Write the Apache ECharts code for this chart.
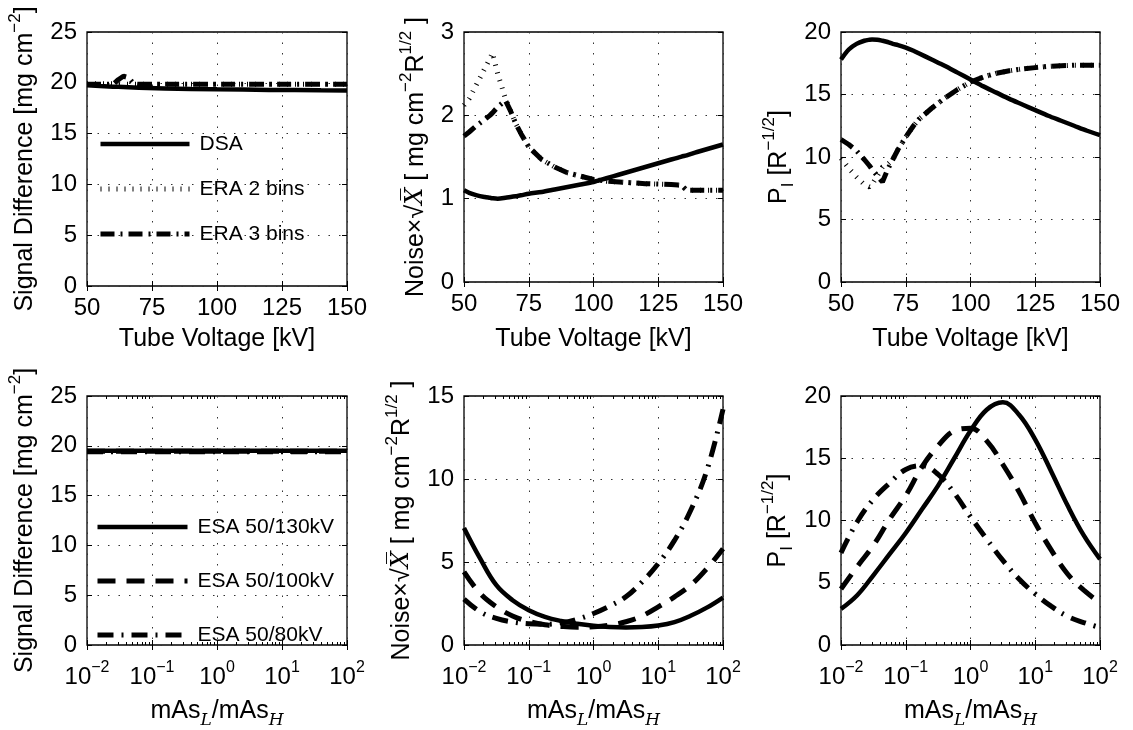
<!DOCTYPE html>
<html>
<head>
<meta charset="utf-8">
<script src="https://cdn.jsdelivr.net/npm/echarts@6/dist/echarts.min.js"></script>
<style>
html,body{margin:0;padding:0;background:#fff;}
#chart{width:1133px;height:730px;}
</style>
</head>
<body>
<div id="chart"></div>
<script>
// ---------------- DATA ----------------
// Top row: x = tube voltage [kV]
const p1X   = [50,55,60,62,64,66,68,70,80,90,100,110,120,130,140,150];
const p1DSA = [19.75,19.68,19.62,19.6,19.58,19.56,19.54,19.52,19.45,19.4,19.36,19.33,19.3,19.28,19.26,19.25];
const p1ERA2= [19.9,19.9,19.9,19.9,19.85,19.85,19.85,19.85,19.85,19.85,19.85,19.85,19.85,19.85,19.85,19.85];
const p1ERA3= [19.85,19.85,19.85,20.3,20.65,20.5,19.9,19.85,19.85,19.85,19.85,19.85,19.85,19.85,19.85,19.85];

const p2X   = [50,52,55,58,60,61,63,66,68,70,72,75,80,85,90,95,100,105,110,120,130,134,136,140,150];
const p2DSA = [1.10,1.07,1.04,1.02,1.01,1.005,1.0,1.01,1.02,1.03,1.04,1.06,1.08,1.11,1.14,1.17,1.20,1.245,1.29,1.38,1.47,1.505,1.52,1.56,1.65];
const p2ERA2= [2.12,2.2,2.38,2.56,2.68,2.75,2.5,2.2,2.05,1.9,1.78,1.62,1.47,1.38,1.31,1.27,1.23,1.21,1.2,1.18,1.17,1.16,1.1,1.1,1.1];
const p2ERA3= [1.75,1.8,1.88,1.95,2.0,2.03,2.1,2.18,2.05,1.9,1.78,1.62,1.47,1.38,1.31,1.27,1.23,1.21,1.2,1.18,1.17,1.16,1.1,1.1,1.1];

const p3X   = [50,53,56,59,61,62,64,66,68,70,72,75,78,80,85,90,95,100,105,110,115,120,125,130,135,140,145,150];
const p3DSA = [17.8,18.6,19.05,19.3,19.38,19.4,19.38,19.3,19.2,19.05,18.95,18.75,18.5,18.3,17.8,17.3,16.75,16.2,15.65,15.15,14.65,14.2,13.75,13.3,12.9,12.5,12.1,11.75];
const p3ERA2= [9.9,9.1,8.4,7.8,7.6,7.8,8.5,9.2,9.4,9.8,10.6,11.6,12.5,13.0,13.9,14.7,15.4,16.0,16.4,16.7,16.9,17.05,17.15,17.25,17.3,17.35,17.35,17.35];
const p3ERA3= [11.4,11.0,10.5,9.8,9.3,9.0,8.5,8.0,9.0,9.8,10.6,11.6,12.5,13.0,13.9,14.7,15.4,16.0,16.4,16.7,16.9,17.05,17.15,17.25,17.3,17.35,17.35,17.35];

// Bottom row: x = mAs_L / mAs_H (log)
const ratio = [0.01,0.0178,0.0316,0.0562,0.1,0.178,0.316,0.562,1,1.78,3.16,5.62,10,17.8,31.6,56.2,100];
const p4ESA130 = [19.5,19.5,19.5,19.5,19.5,19.5,19.5,19.5,19.5,19.5,19.5,19.5,19.5,19.5,19.5,19.5,19.5];
const p4ESA100 = [19.45,19.45,19.45,19.45,19.45,19.45,19.45,19.45,19.45,19.45,19.45,19.45,19.45,19.45,19.45,19.45,19.45];
const p4ESA80  = [19.4,19.4,19.4,19.4,19.4,19.4,19.4,19.4,19.4,19.4,19.4,19.4,19.4,19.4,19.4,19.4,19.4];

const p5ESA130 = [7.05,5.2,3.6,2.7,2.1,1.7,1.45,1.28,1.16,1.09,1.06,1.08,1.17,1.38,1.76,2.25,2.86];
const p5ESA100 = [4.4,3.1,2.3,1.75,1.42,1.22,1.12,1.07,1.1,1.2,1.4,1.75,2.3,2.9,3.6,4.6,5.8];
const p5ESA80  = [2.76,2.0,1.6,1.38,1.28,1.25,1.33,1.55,1.9,2.35,2.9,3.8,4.9,6.3,8.1,10.5,14.2];

const p6ESA130 = [2.9,4.0,5.6,7.3,9.0,10.9,12.8,15.0,17.2,18.9,19.5,18.5,16.5,13.9,11.2,8.8,6.9];
const p6ESA100 = [4.5,6.3,8.0,10.1,12.0,14.3,16.0,17.2,17.4,16.4,14.5,12.3,9.8,7.6,5.7,4.4,3.4];
const p6ESA80  = [7.4,9.9,11.7,13.0,14.1,14.4,13.7,12.2,10.3,8.5,6.8,5.3,4.1,3.1,2.3,1.8,1.4];

const legendTop = ['DSA','ERA 2 bins','ERA 3 bins'];
const legendBottom = ['ESA 50/130kV','ESA 50/100kV','ESA 50/80kV'];
const logMinorTicks = [0.02,0.03,0.04,0.05,0.06,0.07,0.08,0.09,0.2,0.3,0.4,0.5,0.6,0.7,0.8,0.9,2,3,4,5,6,7,8,9,20,30,40,50,60,70,80,90];

// ---------------- STYLE ----------------
const FF = 'Liberation Sans';
const solid  = {color:'#000', width:4.5, type:'solid'};
const dotted = {color:'#000', width:5, type:[1,7], cap:'butt'};
const dashdot= {color:'#000', width:5, type:[14,6,2,6], cap:'butt'};
const dashed = {color:'#000', width:5, type:[18,11], cap:'butt'};
const dashdot2={color:'#000', width:5, type:[16,8,2,8], cap:'butt'};

const grids = [
  {left:87,  top:32,  width:260, height:254},
  {left:464, top:32,  width:259, height:250},
  {left:841, top:32,  width:259, height:250},
  {left:87,  top:396, width:260, height:250},
  {left:464, top:396, width:259, height:250},
  {left:841, top:396, width:259, height:250}
].map(g => Object.assign({show:true, borderColor:'#000', borderWidth:1.3, backgroundColor:'transparent'}, g));

const nameRich = {
  b:  {fontFamily:FF, fontSize:25, lineHeight:36, color:'#000'},
  i:  {fontFamily:'DejaVu Serif', fontStyle:'italic', fontSize:24, lineHeight:36, color:'#000'},
  sup:{fontFamily:FF, fontSize:17, lineHeight:17, verticalAlign:'top', color:'#000'},
  sub:{fontFamily:FF, fontSize:17, lineHeight:17, verticalAlign:'bottom', color:'#000'},
  subi:{fontFamily:'DejaVu Serif', fontStyle:'italic', fontSize:17, lineHeight:17, verticalAlign:'bottom', color:'#000'}
};
const nameStyle = {fontFamily:FF, fontSize:25, color:'#000', rich:nameRich};
const splitStyle = {show:true, lineStyle:{color:'#333', width:1, type:[1.5,9]}};
const tickStyle = {show:true, inside:true, length:5, lineStyle:{color:'#000', width:1}};
const minorTickStyle = {show:true, inside:true, length:3, customValues:logMinorTicks, lineStyle:{color:'#000', width:1}};
const labelBase = {fontFamily:FF, fontSize:24, color:'#000'};

function logFmt(v){
  const e = Math.round(Math.log10(v));
  return '{b|10}{s|' + (e < 0 ? '\u2212' + (-e) : e) + '}';
}

const xAxes = [], yAxes = [];
const topNameEdge = 321;
for (let i = 0; i < 6; i++) {
  const g = grids[i];
  const isLog = i >= 3;
  const bottom = g.top + g.height;
  const xName = isLog ? '{b|mAs}{subi|L}{b|/mAs}{subi|H}' : '{b|Tube Voltage [kV]}';
  xAxes.push(isLog ? {
    gridIndex:i, type:'log', logBase:10, min:0.01, max:100, position:'bottom',
    name:xName, nameLocation:'middle', nameGap: 694 - bottom, nameTextStyle:nameStyle,
    axisLine:{show:false}, axisTick:tickStyle, splitLine:splitStyle,
    axisLabel:{margin:15, formatter:logFmt, rich:{
      b:{fontFamily:FF, fontSize:24, lineHeight:34, color:'#000'},
      s:{fontFamily:FF, fontSize:16, lineHeight:14, verticalAlign:'top', color:'#000'}}}
  } : {
    gridIndex:i, type:'value', min:50, max:150, interval:25, position:'bottom',
    name:xName, nameLocation:'middle', nameGap: topNameEdge - bottom, nameTextStyle:nameStyle,
    axisLine:{show:false}, axisTick:tickStyle, splitLine:splitStyle,
    axisLabel:Object.assign({margin:10}, labelBase)
  });
  // mirrored top axis (ticks only)
  xAxes.push(isLog ? {
    gridIndex:i, type:'log', logBase:10, min:0.01, max:100, position:'top',
    axisLine:{show:false}, axisTick:tickStyle, axisLabel:{show:false}, splitLine:{show:false}
  } : {
    gridIndex:i, type:'value', min:50, max:150, interval:25, position:'top',
    axisLine:{show:false}, axisTick:tickStyle, axisLabel:{show:false}, splitLine:{show:false}
  });
}
// minor tick axes for log grids (bottom and top)
for (let i = 3; i < 6; i++) {
  ['bottom','top'].forEach(pos => xAxes.push({
    gridIndex:i, type:'log', logBase:10, min:0.01, max:100, position:pos,
    axisLine:{show:false}, axisTick:minorTickStyle, axisLabel:{show:false}, splitLine:{show:false}
  }));
}
const NOISE = '{b|Noise\u00d7\u221a}{i|X\u0305}{b| [ mg cm}{sup|\u22122}{b|R}{sup|1/2}{b| ]}';
const SIGD = '{b|Signal Difference [mg cm}{sup|\u22122}{b|]}';
const PI = '{b|P}{sub|I}{b| [R}{sup|\u22121/2}{b|]}';
const yCfg = [
  {max:25, interval:5, name:SIGD, gap:44},
  {max:3,  interval:1, name:NOISE, gap:30},
  {max:20, interval:5, name:PI, gap:44},
  {max:25, interval:5, name:SIGD, gap:44},
  {max:15, interval:5, name:NOISE, gap:44},
  {max:20, interval:5, name:PI, gap:45}
];
for (let i = 0; i < 6; i++) {
  const c = yCfg[i];
  yAxes.push({
    gridIndex:i, type:'value', min:0, max:c.max, interval:c.interval, position:'left',
    name:c.name, nameLocation:'middle', nameGap:c.gap, nameRotate:90, nameTextStyle:nameStyle,
    axisLine:{show:false}, axisTick:tickStyle, splitLine:splitStyle,
    axisLabel:Object.assign({margin:10}, labelBase)
  });
  yAxes.push({
    gridIndex:i, type:'value', min:0, max:c.max, interval:c.interval, position:'right',
    axisLine:{show:false}, axisTick:tickStyle, axisLabel:{show:false}, splitLine:{show:false}
  });
}

function zip(xs, ys){ return xs.map((x, k) => [x, ys[k]]); }
function ser(name, gi, xs, ys, ls, smooth, z){
  return {
    name, type:'line', xAxisIndex:gi*2, yAxisIndex:gi*2, data:zip(xs, ys),
    symbol:'none', showSymbol:false, smooth:smooth || false, lineStyle:ls, itemStyle:{color:'#000'},
    z:z || 2, animation:false, silent:true
  };
}

const series = [
  ser('DSA', 0, p1X, p1DSA, solid, false, 3),
  ser('ERA 2 bins', 0, p1X, p1ERA2, dotted, false, 4),
  ser('ERA 3 bins', 0, p1X, p1ERA3, dashdot, false, 2),
  ser('DSA', 1, p2X, p2DSA, solid, 0.3, 3),
  ser('ERA 2 bins', 1, p2X, p2ERA2, dotted, false, 4),
  ser('ERA 3 bins', 1, p2X, p2ERA3, dashdot, false, 2),
  ser('DSA', 2, p3X, p3DSA, solid, 0.3, 3),
  ser('ERA 2 bins', 2, p3X, p3ERA2, dotted, false, 4),
  ser('ERA 3 bins', 2, p3X, p3ERA3, dashdot, false, 2),
  ser('ESA 50/130kV', 3, ratio, p4ESA130, solid, false, 3),
  ser('ESA 50/100kV', 3, ratio, p4ESA100, dashed, false, 2),
  ser('ESA 50/80kV', 3, ratio, p4ESA80, dashdot2, false, 2),
  ser('ESA 50/130kV', 4, ratio, p5ESA130, solid, 0.4, 3),
  ser('ESA 50/100kV', 4, ratio, p5ESA100, dashed, 0.4, 2),
  ser('ESA 50/80kV', 4, ratio, p5ESA80, dashdot2, 0.4, 2),
  ser('ESA 50/130kV', 5, ratio, p6ESA130, solid, 0.4, 3),
  ser('ESA 50/100kV', 5, ratio, p6ESA100, dashed, 0.4, 2),
  ser('ESA 50/80kV', 5, ratio, p6ESA80, dashdot2, 0.4, 2)
];

const legendText = {fontFamily:FF, fontSize:21, lineHeight:22, color:'#000', padding:[0,0,0,5]};
const topStyles = [solid, dotted, dashdot];
const botStyles = [solid, dashed, dashdot2];
const option = {
  backgroundColor:'#fff',
  animation:false,
  grid:grids,
  xAxis:xAxes,
  yAxis:yAxes,
  legend:[
    {data:legendTop.map((n, k) => ({name:n, lineStyle:topStyles[k], itemStyle:{opacity:0}})),
     orient:'vertical', left:98, top:133, itemWidth:89, itemHeight:14, itemGap:23,
     itemStyle:{opacity:0}, textStyle:legendText, selectedMode:false, padding:0},
    {data:legendBottom.map((n, k) => ({name:n, lineStyle:botStyles[k], itemStyle:{opacity:0}})),
     orient:'vertical', left:95, top:516, itemWidth:90, itemHeight:14, itemGap:32,
     itemStyle:{opacity:0}, textStyle:legendText, selectedMode:false, padding:0}
  ],
  series
};
const chart = echarts.init(document.getElementById('chart'), null, {renderer:'canvas'});
chart.setOption(option);
</script>
</body>
</html>
